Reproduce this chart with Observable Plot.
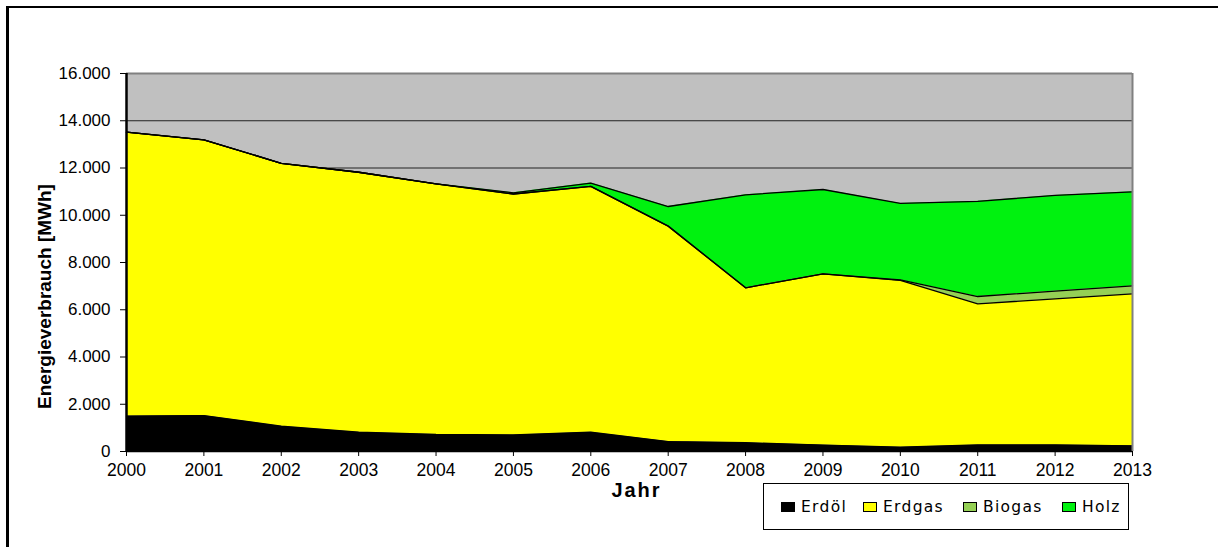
<!DOCTYPE html>
<html>
<head>
<meta charset="utf-8">
<script src="https://cdn.jsdelivr.net/npm/d3@7"></script>
<script src="https://cdn.jsdelivr.net/npm/@observablehq/plot@0.6"></script>
<style>
  html, body { margin: 0; padding: 0; background: #fff; overflow: hidden; }
  #wrap { position: relative; width: 1218px; height: 547px; overflow: hidden; font-family: "Liberation Sans", Arial, sans-serif; }
  #border { position: absolute; left: 6px; top: 6px; width: 1400px; height: 700px; border-left: 3px solid #000; border-top: 2px solid #000; pointer-events: none; }
  #legend { position: absolute; left: 763px; top: 483px; width: 366px; height: 47px; border: 1px solid #000; background: #fff; box-sizing: border-box; }
  .item { position: absolute; top: 0; height: 45px; display: flex; align-items: center; }
  .sw { width: 12px; height: 8px; border: 1px solid #000; margin-right: 6px; }
  .lab { font-family: "DejaVu Sans", sans-serif; font-size: 15.5px; letter-spacing: 1.3px; color: #000; }
  svg { position: absolute; left: 0; top: 0; }
</style>
</head>
<body>
<div id="wrap">
  <div id="chart"></div>
  <div id="border"></div>
  <div id="legend"></div>
</div>
<script>
// ---- data ----
const years  = [2000, 2001, 2002, 2003, 2004, 2005, 2006, 2007, 2008, 2009, 2010, 2011, 2012, 2013];
const erdoel = [1500, 1520, 1070, 820, 720, 700, 820, 420, 370, 270, 180, 280, 275, 240];
const erdgas = [12020, 11670, 11130, 11000, 10610, 10200, 10400, 9120, 6560, 7250, 7060, 5970, 6185, 6430];
const biogas = [0, 0, 0, 0, 0, 0, 0, 0, 0, 0, 20, 310, 330, 340];
const holz   = [0, 0, 0, 0, 0, 50, 140, 830, 3935, 3570, 3240, 4030, 4050, 3980];
const seriesNames = ["Erdöl", "Erdgas", "Biogas", "Holz"];
const seriesColors = ["#000000", "#ffff00", "#95d055", "#00f20f"];
const yTicks = [0, 2000, 4000, 6000, 8000, 10000, 12000, 14000, 16000];
const yLabel = "Energieverbrauch [MWh]";
const xLabel = "Jahr";

const seriesValues = [erdoel, erdgas, biogas, holz];
const rows = [];
seriesNames.forEach((s, i) => years.forEach((y, j) => rows.push({year: y, series: s, value: seriesValues[i][j]})));

const deFmt = d3.formatLocale({decimal: ",", thousands: ".", grouping: [3], currency: ["", ""]}).format(",");

const chart = Plot.plot({
  width: 1218,
  height: 547,
  marginLeft: 126,
  marginRight: 86,
  marginTop: 73,
  marginBottom: 96,
  style: {fontFamily: "'Liberation Sans', Arial, sans-serif", fontSize: "16px", color: "#000", background: "transparent"},
  x: {domain: [2000, 2013]},
  y: {domain: [0, 16000]},
  color: {domain: seriesNames, range: seriesColors},
  marks: [
    Plot.frame({fill: "#c0c0c0"}),
    Plot.ruleY(yTicks.slice(1, -1), {stroke: "#222", strokeWidth: 1}),
    Plot.areaY(rows, {x: "year", y: "value", fill: "series", order: seriesNames}),
    Plot.lineY(rows, Plot.stackY2({x: "year", y: "value", z: "series", order: seriesNames, stroke: "#000", strokeWidth: 1.3})),
    Plot.ruleY([16000], {stroke: "#808080", strokeWidth: 2}),
    Plot.ruleX([2013], {stroke: "#808080", strokeWidth: 2}),
    Plot.ruleY([0], {stroke: "#000", strokeWidth: 1.5}),
    Plot.ruleX([2000], {stroke: "#000", strokeWidth: 2.5}),
    Plot.axisY({ticks: yTicks, tickFormat: deFmt, tickSize: 6, tickPadding: 10, label: null, fontSize: 17}),
    Plot.axisX({ticks: years, tickFormat: "d", tickSize: 5, tickPadding: 7, label: null, fontSize: 17.5}),
    Plot.text([yLabel], {text: d => d, frameAnchor: "left", rotate: -90, dx: -82, dy: 34, textAnchor: "middle", lineAnchor: "middle", fontWeight: "bold", fontSize: 19}),
    Plot.text([xLabel], {text: d => d, frameAnchor: "bottom", dx: 7, dy: 31, textAnchor: "middle", lineAnchor: "top", fontWeight: "bold", fontSize: 20})
  ]
});
document.getElementById("chart").appendChild(chart);
d3.select(chart).selectAll("text").filter(function() { return this.textContent === xLabel; }).style("letter-spacing", "2px");

// legend
const legendLefts = [17, 99, 199, 298];
const legend = d3.select("#legend");
seriesNames.forEach((s, i) => {
  const it = legend.append("div").attr("class", "item").style("left", legendLefts[i] + "px");
  it.append("div").attr("class", "sw").style("background", seriesColors[i]);
  it.append("span").attr("class", "lab").text(s);
});
</script>
</body>
</html>
